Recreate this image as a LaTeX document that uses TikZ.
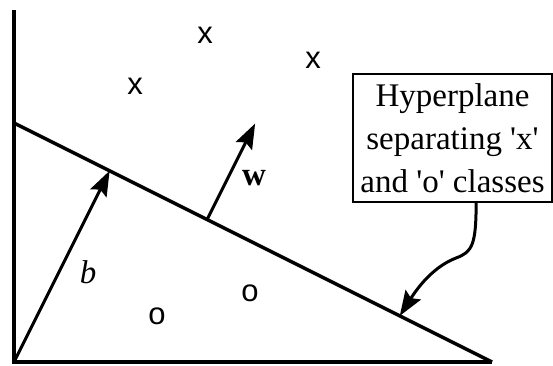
\documentclass[tikz,border=0pt]{standalone}
\usepackage{fontspec}
\setmainfont{Liberation Serif}
\newfontfamily\marksans{Liberation Sans}
\usetikzlibrary{arrows.meta,calc}
\tikzset{
  axis/.style  ={draw=black, line width=3.6pt},
  plane/.style ={draw=black, line width=3.4pt},
  vec/.style   ={-{Stealth[length=25pt, width=18pt, inset=4pt]}, draw=black,
                 line width=3pt},
  pointer/.style={vec},
  sample/.style={font=\marksans\fontsize{31}{31}\selectfont, inner sep=0pt},
  lbl/.style   ={font=\fontsize{33}{33}\selectfont, inner sep=0pt},
  % the text block of the callout is a little right of the box centre
  note/.style  ={draw=black, line width=1.2pt, align=center, inner sep=0pt,
                 font=\fontsize{33}{43}\selectfont,
                 minimum width=199pt, minimum height=128pt},
}

\begin{document}
\begin{tikzpicture}[x=1pt, y=-1pt]
\useasboundingbox (0,0) rectangle (553,365);

% ---------------------------------------------------------------- axes
\coordinate (origin) at (14,362);
\coordinate (ytop) at (14,10);
\coordinate (hs) at (14,123);
\coordinate (he) at (492,362);
\draw[axis] (ytop) -- (origin) -- (he);

% ---------------------------------------------------------------- hyperplane
\draw[plane] (hs) -- (he);

% ---------------------------------------------------------------- samples
\node[sample] (x1) at (205,35) {x};
\node[sample] (x2) at (313,60) {x};
\node[sample] (x3) at (135,86) {x};
\node[sample] (o1) at (157,316) {o};
\node[sample] (o2) at (250,293) {o};

% ---------------------------------------------------------------- vectors
\coordinate (bfoot) at ($(hs)!0.2!(he)$);
\coordinate (wbase) at ($(hs)!0.404!(he)$);
\coordinate (wtip) at ($(wbase)+(48,-96)$);
\draw[vec] (origin) -- (bfoot);
\draw[vec] (wbase) -- (wtip);
\node[lbl] (blbl) at (88,272) {\textit{b}};
\node[lbl] (wlbl) at (254,178) {\textbf{w}};

% ---------------------------------------------------------------- callout
\node[note] (note) at (452.5,138)
  {Hyperplane\\separating \textquotesingle x\textquotesingle\\and \textquotesingle o\textquotesingle\ classes};
\coordinate (ntail) at ($(note.south west)!0.618!(note.south east)$);
\coordinate (kink) at (456,258);
\coordinate (ctip) at ($(hs)!0.807!(he)$);
\draw[pointer] (ntail) .. controls +(0,43) and +(16,-6) .. (kink)
  .. controls +(-26,10) and +(14,-22) .. (ctip);

\end{tikzpicture}
\end{document}
